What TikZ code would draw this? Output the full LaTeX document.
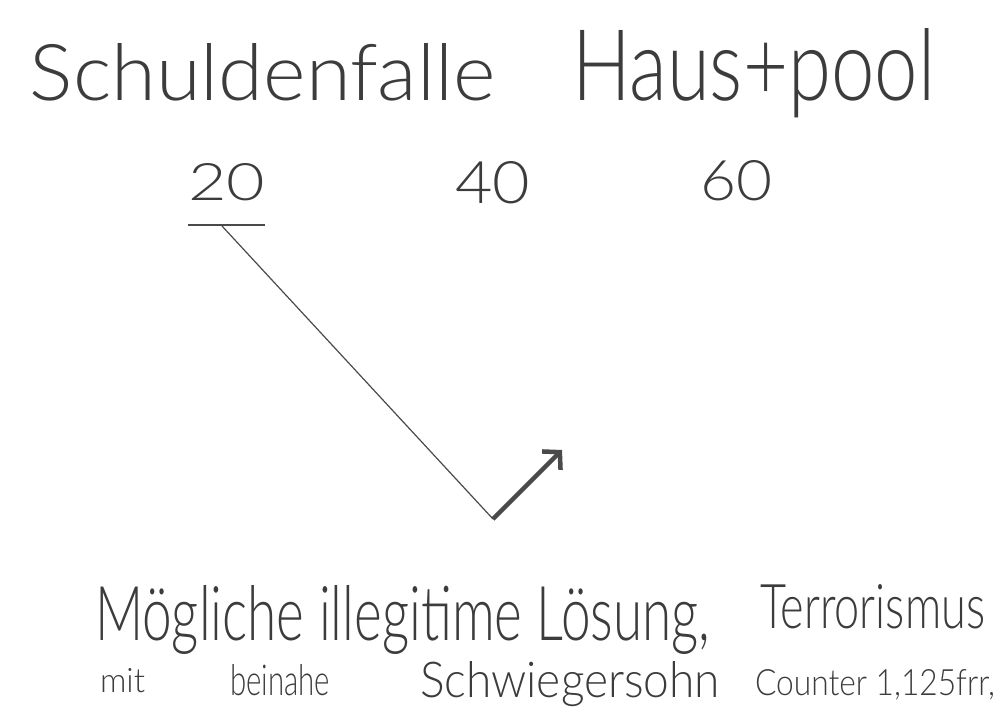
\documentclass[tikz,border=0pt]{standalone}
\usepackage{fontspec}
\setmainfont{Lato Light}
\usepackage{graphicx}
\usetikzlibrary{arrows.meta}
\definecolor{ink}{HTML}{3C3C3C}
\definecolor{pen}{HTML}{4A4A4A}
\newcommand\hwtxt[3]{\resizebox{#1pt}{#2pt}{#3}}
\tikzset{
  hand/.style={anchor=base west, inner sep=0pt, outer sep=0pt, text=ink},
  thinline/.style={draw=pen, line width=1.2pt},
  boldarrow/.style={draw=pen, line width=4.5pt, -{Straight Barb[length=12pt,width=26pt,line width=4.5pt]}}
}
\begin{document}
\begin{tikzpicture}[x=1pt,y=-1pt]
\useasboundingbox[fill=white] (0,0) rectangle (1000,707);
% title
\node[hand] (t1) at (30,100) {\hwtxt{465}{57}{Schuldenfalle}};
\node[hand] (t2) at (572,100) {\hwtxt{363}{72}{Haus+pool}};
% numbers
\node[hand] (n20) at (188,200) {\hwtxt{77}{37}{20}};
\node[hand] (n40) at (455,203) {\hwtxt{75}{42}{40}};
\node[hand] (n60) at (700,200) {\hwtxt{72}{40}{60}};
% underline and path
\coordinate (u1) at (188,225);
\coordinate (u2) at (265,225);
\coordinate (s) at (222,226);
\coordinate (bend) at (493,519);
\coordinate (tip) at (562,450);
\draw[thinline] (u1) -- (u2);
\draw[thinline] (s) -- (bend);
\draw[boldarrow] (bend) -- (tip);
% bottom text
\node[hand] (b1) at (95,640) {\hwtxt{615}{55}{Mögliche illegitime Lösung,}};
\node[hand] (b2) at (760,628) {\hwtxt{225}{44}{Terrorismus}};
\node[hand] (b3) at (100,692) {\hwtxt{45}{24}{mit}};
\node[hand] (b4) at (230,695) {\hwtxt{100}{31}{beinahe}};
\node[hand] (b5) at (420,697) {\hwtxt{300}{36}{Schwiegersohn}};
\node[hand] (b6) at (755,695) {\hwtxt{240}{26}{Counter 1,125frr,}};
\end{tikzpicture}
\end{document}
